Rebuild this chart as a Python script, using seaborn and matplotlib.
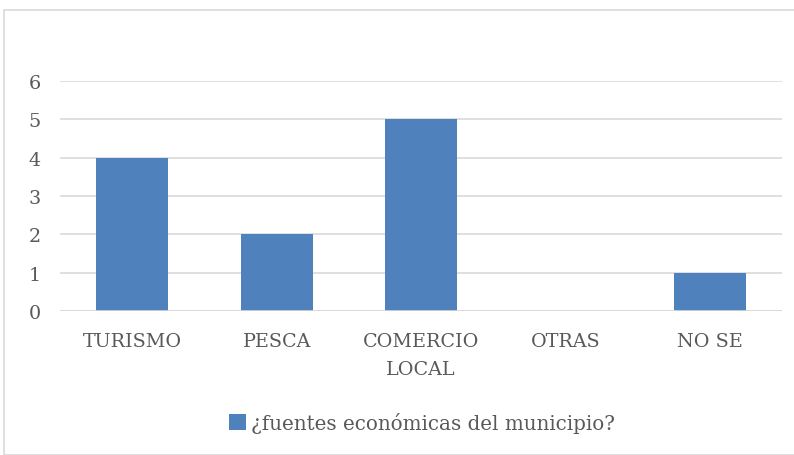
import matplotlib
matplotlib.use("Agg")
import matplotlib.pyplot as plt
from matplotlib.patches import Rectangle, Patch
import seaborn as sns
import pandas as pd

categorias = ["TURISMO", "PESCA", "COMERCIO\nLOCAL", "OTRAS", "NO SE"]
valores = [4, 2, 5, 0, 1]
serie = "¿fuentes económicas del municipio?"
y_ticks = [0, 1, 2, 3, 4, 5, 6]

sns.set_theme(style="white")
plt.rcParams["font.family"] = ["DejaVu Serif", "Liberation Serif"]

color_barra = "#4F81BD"
color_texto = "#595959"
color_rejilla = "#D9D9D9"

df = pd.DataFrame({"categoria": categorias, "valor": valores})

fig = plt.figure(figsize=(7.94, 4.56), dpi=100)
ax = fig.add_axes([60 / 794, 1 - 312 / 456, 722 / 794, 230 / 456])

sns.barplot(data=df, x="categoria", y="valor", color=color_barra,
            width=0.5, saturation=1, linewidth=0, ax=ax, zorder=3)

ax.set_xlim(-0.5, len(categorias) - 0.5)
ax.set_ylim(0, 6)
ax.set_yticks(y_ticks)
ax.set_yticklabels([str(t) for t in y_ticks])
ax.yaxis.grid(True, color=color_rejilla, linewidth=1.2, zorder=0)
ax.xaxis.grid(False)
for s in ax.spines.values():
    s.set_visible(False)
ax.axhline(0, color=color_rejilla, linewidth=1.2, zorder=4)
ax.set_xlabel("")
ax.set_ylabel("")
ax.tick_params(axis="both", length=0, labelsize=13.8, colors=color_texto)
ax.tick_params(axis="x", pad=15)
ax.tick_params(axis="y", pad=14)
for lab in ax.get_xticklabels():
    lab.set_linespacing(1.75)
    lab.set_verticalalignment("top")

handle = Patch(facecolor=color_barra, edgecolor="none", label=serie)
fig.legend(handles=[handle], loc="center", bbox_to_anchor=(422 / 794, 1 - 423 / 456),
           frameon=False, fontsize=14.3, labelcolor=color_texto,
           handlelength=0.85, handleheight=0.85, handletextpad=0.25)

fig.patches.append(Rectangle((4 / 794, 0), 1, 1 - 11 / 456, transform=fig.transFigure,
                             fill=False, edgecolor=color_rejilla, linewidth=1.2))

fig.savefig("out.png", dpi=100, facecolor="white")
